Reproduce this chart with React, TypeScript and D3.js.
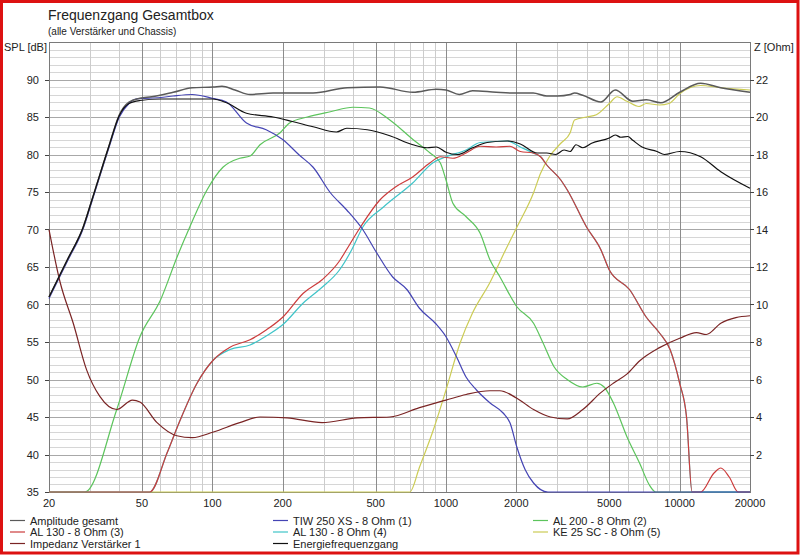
import React from "react";
import * as d3 from "d3";

// ---------- data ----------
const freqTickLabels = [20, 50, 100, 200, 500, 1000, 2000, 5000, 10000, 20000];
const splTicks = [35, 40, 45, 50, 55, 60, 65, 70, 75, 80, 85, 90];
const ohmTicks = [2, 4, 6, 8, 10, 12, 14, 16, 18, 20, 22];

const ampFreq = [20, 24, 28, 30.5, 36, 40, 44, 49, 55, 68, 82, 101, 110, 125, 145, 182, 236, 270, 378, 522, 722, 910, 1000, 1140, 1300, 1640, 1930, 2360, 2700, 3000, 3400, 3550, 3850, 4600, 5300, 6300, 7200, 8300, 10000, 12300, 15000, 20000];
const ampDb = [61, 66, 70.3, 73.9, 81, 85.3, 87, 87.5, 87.7, 88.3, 88.9, 89, 89.1, 88.6, 88, 88.2, 88.2, 88.2, 88.9, 89, 88.3, 88.7, 88.6, 88, 88.5, 88.3, 88.2, 88.2, 87.8, 87.8, 88, 88.2, 87.9, 87, 88.6, 87.1, 87.3, 86.9, 88.3, 89.5, 88.9, 88.3];

const tiwFreq = [20, 24, 28, 30.5, 36, 40, 44, 47, 60, 68, 82, 100, 115, 140, 170, 200, 236, 270, 320, 376, 440, 505, 590, 680, 770, 900, 1000, 1110, 1220, 1350, 1540, 1760, 1880, 2010, 2180, 2370, 2730, 20000];
const tiwDb = [60.8, 65.8, 70.1, 73.7, 80.8, 85, 86.8, 87.4, 87.6, 87.8, 88, 87.5, 87, 84.2, 83.3, 82, 79.9, 78.3, 74.9, 72.6, 70, 66.9, 63.7, 62, 59.5, 57.5, 55.7, 53, 50.3, 48.6, 46.9, 45.5, 44.2, 41, 38, 36.2, 35, 35];

const al200Freq = [20, 28.5, 39, 49, 60, 71, 80, 95, 111, 131, 145, 160, 195, 214, 255, 320, 400, 470, 575, 722, 855, 945, 1000, 1070, 1220, 1400, 1540, 1700, 2010, 2370, 2600, 2900, 3300, 3850, 4420, 4750, 5200, 5960, 6750, 7400, 7900, 20000];
const al200Db = [35, 35, 46, 55.7, 60.6, 66.5, 70.3, 75.3, 78.3, 79.5, 79.8, 81.3, 82.9, 84.2, 85, 85.7, 86.3, 86.2, 84.6, 82, 80.2, 78.9, 76.6, 73.5, 71.7, 69.5, 66, 63.7, 59.7, 57.5, 54.9, 51.7, 50, 49, 49.5, 49, 46.9, 42.3, 38.8, 36, 35, 35];

const al130aFreq = [20, 54, 64, 72, 86, 101, 119, 145, 170, 200, 245, 295, 350, 375, 430, 520, 610, 720, 855, 945, 1070, 1220, 1400, 1640, 1880, 2080, 2360, 2540, 2700, 3100, 3300, 4000, 4600, 5000, 6100, 7200, 8200, 9100, 10000, 10700, 11300, 12300, 14000, 15000, 16300, 17800, 20000];
const al130aDb = [35, 35, 40.2, 44.2, 49.5, 52.6, 54.3, 55.3, 56.6, 58.3, 61.5, 63.3, 65.8, 67.3, 70.3, 73.9, 75.7, 77, 78.9, 79.7, 79.5, 80.2, 81.1, 81, 81.1, 80.4, 80.2, 79.7, 78.6, 76.6, 75.3, 70.3, 67.3, 64.6, 62, 58.3, 56.2, 54, 49.5, 45, 35, 35, 37.5, 38.2, 37, 35, 35];

const al130bFreq = [20, 54, 64, 72, 86, 101, 119, 145, 170, 200, 245, 295, 350, 395, 440, 540, 720, 880, 1000, 1220, 1400, 1830, 2080, 2360, 2540, 2700, 3100, 3300, 4000, 4600, 5000, 6100, 7200, 8200, 9100, 10000, 10700, 11300, 20000];
const al130bDb = [35, 35, 40.2, 44.2, 49.5, 52.6, 54, 54.6, 55.8, 57.3, 60.2, 62.3, 64.6, 67.3, 70.3, 73, 76.2, 78.9, 79.7, 80.6, 81.6, 81.8, 81, 80.2, 79.7, 78.6, 76.6, 75.3, 70.3, 67.3, 64.6, 62, 58.3, 56.2, 54, 49.5, 45, 35, 35];

const keFreq = [20, 700, 770, 890, 1000, 1150, 1300, 1540, 1800, 2010, 2370, 2540, 2770, 3100, 3400, 3550, 4000, 4400, 5000, 5400, 5950, 6700, 7200, 8200, 9000, 10000, 12300, 15000, 20000];
const keDb = [35, 35, 38.3, 43.6, 48.6, 54.9, 58.9, 62.9, 67.3, 70.3, 74.9, 77.5, 79.7, 81.5, 82.9, 84.6, 85, 85.3, 86.8, 87.7, 87.1, 86.4, 86.8, 86.6, 86.8, 88.1, 89.2, 88.9, 88.6];

const impFreq = [20, 22.3, 25.4, 29, 33, 39, 45.5, 49, 58, 70.5, 82, 101, 131, 160, 209, 295, 416, 575, 770, 1000, 1220, 1540, 1700, 2010, 2370, 2800, 3300, 3850, 4600, 5200, 5960, 6750, 8200, 10000, 11800, 13000, 15000, 17400, 20000];
const impOhm = [14, 11.2, 9, 6.5, 5.1, 4.4, 4.9, 4.8, 3.7, 3.0, 2.9, 3.2, 3.7, 4.0, 3.95, 3.7, 3.95, 4.0, 4.5, 4.9, 5.2, 5.4, 5.4, 5.0, 4.4, 4.0, 3.9, 4.4, 5.3, 5.8, 6.3, 7.0, 7.7, 8.2, 8.5, 8.4, 9.0, 9.3, 9.4];

const energyFreq = [20, 24, 28, 30.5, 36, 40, 44, 49, 60, 100, 115, 140, 182, 220, 270, 340, 376, 460, 575, 722, 830, 910, 1000, 1120, 1300, 1500, 1830, 2080, 2460, 2700, 2950, 3200, 3400, 3600, 3850, 4200, 5000, 5300, 5600, 6000, 6300, 6900, 8000, 8600, 10000, 12300, 15000, 20000];
const energyDb = [61, 66, 70.3, 73.9, 81, 85.2, 86.8, 87.2, 87.4, 87.4, 86.9, 85.5, 85, 84.4, 83.7, 83, 83.5, 83.3, 82.5, 81.3, 80.9, 81, 80.3, 80, 80.9, 81.6, 81.8, 81.4, 80.2, 80.2, 80, 80.6, 80.4, 81.3, 80.9, 81.5, 82.2, 82.6, 82.3, 82.4, 81.9, 81, 80.4, 80, 80.4, 79.7, 77.7, 75.5];

// ---------- layout ----------
const W = 800, H = 556;
const L = 49, R = 750, T = 42, B = 492;
const FONT = "'Liberation Sans', Arial, sans-serif";

const x = d3.scaleLog().domain([20, 20000]).range([L, R]);
const y = d3.scaleLinear().domain([35, 95]).range([B, T]);
const yZ = d3.scaleLinear().domain([0, 24]).range([B, T]);

const mk = (f: number[], v: number[]) => f.map((ff, i) => [ff, v[i]] as [number, number]);
const lineDb = d3.line<[number, number]>().x(d => x(d[0])).y(d => y(d[1])).curve(d3.curveMonotoneX);
const lineZ = d3.line<[number, number]>().x(d => x(d[0])).y(d => yZ(d[1])).curve(d3.curveMonotoneX);

const series = [
  { name: "KE 25 SC", path: lineDb(mk(keFreq, keDb)), color: "#cccc55", w: 1.2 },
  { name: "AL 200", path: lineDb(mk(al200Freq, al200Db)), color: "#5cc45c", w: 1.2 },
  { name: "AL 130 (4)", path: lineDb(mk(al130bFreq, al130bDb)), color: "#3fc4c8", w: 1.2 },
  { name: "AL 130 (3)", path: lineDb(mk(al130aFreq, al130aDb)), color: "#cc3c3c", w: 1.2 },
  { name: "TIW", path: lineDb(mk(tiwFreq, tiwDb)), color: "#4444b4", w: 1.2 },
  { name: "Imp", path: lineZ(mk(impFreq, impOhm)), color: "#7a2424", w: 1.2 },
  { name: "Amp", path: lineDb(mk(ampFreq, ampDb)), color: "#5a5a5a", w: 1.5 },
  { name: "Energy", path: lineDb(mk(energyFreq, energyDb)), color: "#111111", w: 1.2 },
];

const minorFreqs: number[] = [];
for (const dec of [10, 100, 1000, 10000]) {
  for (let m = 1; m <= 9; m++) {
    const f = dec * m;
    if (f >= 20 && f <= 20000) minorFreqs.push(f);
  }
}
const dbLines = d3.range(35, 96, 1);

const legend = [
  { label: "Amplitude gesamt", color: "#5a5a5a", col: 0, row: 0 },
  { label: "AL 130 - 8 Ohm (3)", color: "#cc3c3c", col: 0, row: 1 },
  { label: "Impedanz Verstärker 1", color: "#7a2424", col: 0, row: 2 },
  { label: "TIW 250 XS - 8 Ohm (1)", color: "#4444b4", col: 1, row: 0 },
  { label: "AL 130 - 8 Ohm (4)", color: "#3fc4c8", col: 1, row: 1 },
  { label: "Energiefrequenzgang", color: "#111111", col: 1, row: 2 },
  { label: "AL 200 - 8 Ohm (2)", color: "#5cc45c", col: 2, row: 0 },
  { label: "KE 25 SC - 8 Ohm", color: "#cccc55", col: 2, row: 1 },
];
const legendColX = [10, 273, 533];
const legendRowY = [520.5, 532, 543.5];

export default function App() {
  return (
    <svg width={W} height={H} style={{ position: "absolute", left: 0, top: 0, background: "#fff" }} fontFamily={FONT}>
      <rect x={0} y={0} width={W} height={H} fill="#ffffff" />
      <rect x={1.5} y={1.5} width={W - 3.5} height={H - 4.5} fill="none" stroke="#dd1111" strokeWidth={3} />

      <text x={48} y={20} fontSize={14} fill="#222">Frequenzgang Gesamtbox</text>
      <text x={48} y={35} fontSize={10} fill="#222">(alle Verstärker und Chassis)</text>
      <text x={4} y={51} fontSize={11} fill="#222">SPL [dB]</text>
      <text x={754} y={51} fontSize={11} fill="#222">Z [Ohm]</text>

      {/* grid */}
      <g shapeRendering="crispEdges">
        {dbLines.map(v => (
          <line key={"h" + v} x1={L} x2={R} y1={Math.round(y(v)) + 0.5} y2={Math.round(y(v)) + 0.5}
            stroke={v % 5 === 0 ? "#a8a8a8" : "#d6d6d6"} strokeWidth={1} />
        ))}
        {minorFreqs.map(f => (
          <line key={"v" + f} x1={Math.round(x(f)) + 0.5} x2={Math.round(x(f)) + 0.5} y1={T} y2={B}
            stroke={freqTickLabels.includes(f) ? "#8c8c8c" : "#cccccc"} strokeWidth={1} />
        ))}
        <rect x={L + 0.5} y={T + 0.5} width={R - L} height={B - T} fill="none" stroke="#7a7a7a" strokeWidth={1} />
      </g>

      {/* curves */}
      <g fill="none" strokeLinejoin="round">
        {series.map(s => (
          <path key={s.name} d={s.path || ""} stroke={s.color} strokeWidth={s.w} />
        ))}
      </g>

      {/* left axis */}
      <g fontSize={11} fill="#222">
        {splTicks.map(v => (
          <g key={"l" + v}>
            <line x1={45} x2={L} y1={Math.round(y(v)) + 0.5} y2={Math.round(y(v)) + 0.5} stroke="#444" />
            <text x={39} y={y(v) + 4} textAnchor="end">{v}</text>
          </g>
        ))}
        {ohmTicks.map(v => (
          <g key={"r" + v}>
            <line x1={R} x2={R + 4} y1={Math.round(yZ(v)) + 0.5} y2={Math.round(yZ(v)) + 0.5} stroke="#444" />
            <text x={756} y={yZ(v) + 4}>{v}</text>
          </g>
        ))}
        {freqTickLabels.map(f => (
          <text key={"b" + f} x={x(f)} y={507} textAnchor="middle">{f}</text>
        ))}
      </g>

      {/* legend */}
      <g fontSize={11} fill="#222">
        {legend.map(l => (
          <g key={l.label}>
            <line x1={legendColX[l.col]} x2={legendColX[l.col] + 15} y1={legendRowY[l.row]} y2={legendRowY[l.row]}
              stroke={l.color} strokeWidth={1.2} />
            <text x={legendColX[l.col] + 20} y={legendRowY[l.row] + 4}>{l.label}</text>
          </g>
        ))}
        <text x={647} y={legendRowY[1] + 4}>(5)</text>
      </g>
    </svg>
  );
}
